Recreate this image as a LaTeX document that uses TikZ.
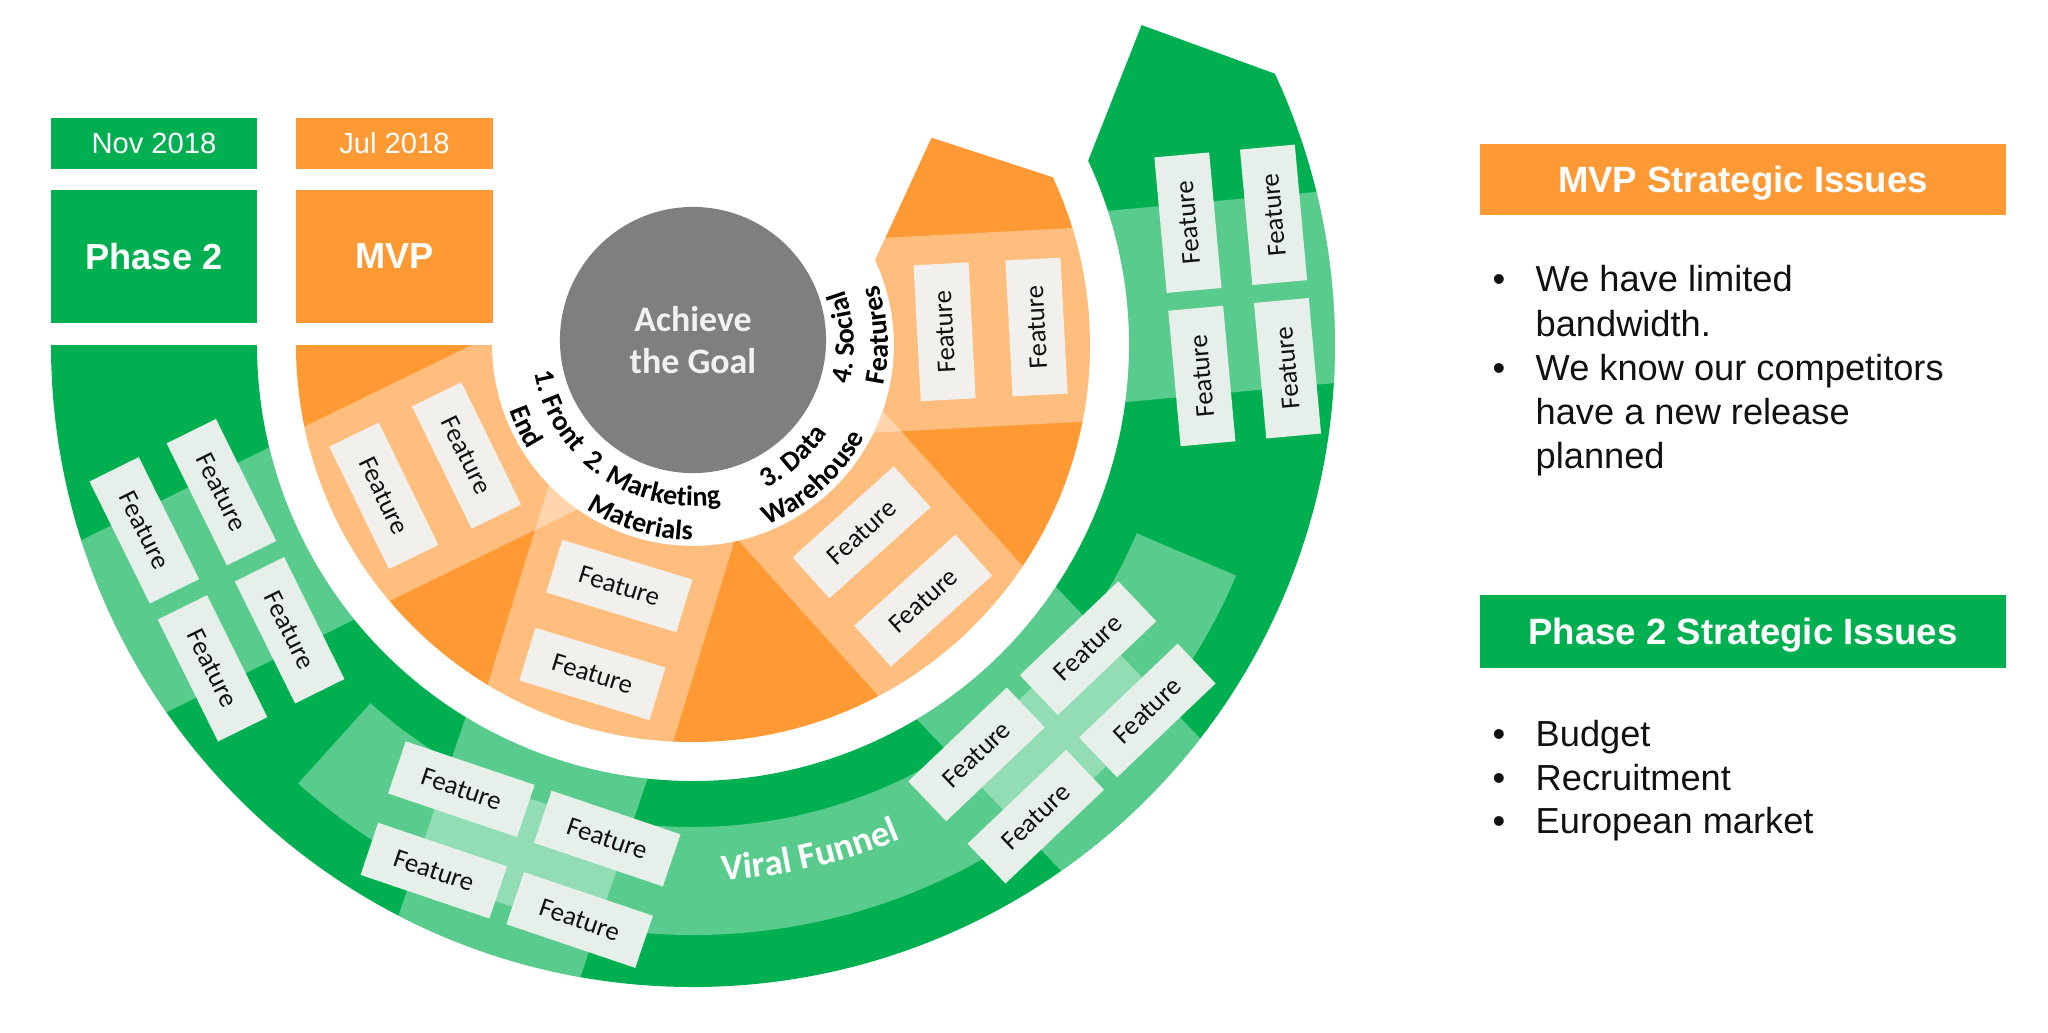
\documentclass[tikz,border=0pt]{standalone}
\usepackage{fontspec}
\usetikzlibrary{decorations.text}
\newfontfamily\calf{Carlito}
\newfontfamily\arf{Liberation Sans}
\definecolor{grn}{HTML}{00B050}
\definecolor{org}{HTML}{FF9933}
\definecolor{gry}{HTML}{7F7F7F}
\definecolor{gbox}{HTML}{E6EFE9}
\definecolor{obox}{HTML}{F2F0EC}
\definecolor{txt}{HTML}{111111}
\newcommand\featfont{\calf\fontsize{7.6}{9}\selectfont}
\newcommand\labfont{\calf\bfseries\fontsize{8}{9.6}\selectfont}
\newcommand\vfont{\calf\bfseries\fontsize{10.5}{12}\selectfont}
\newcommand\goalfont{\calf\bfseries\fontsize{10.2}{12.2}\selectfont}
\newcommand\bulfont{\arf\fontsize{10.3}{12.6}\selectfont}
\def\gpath{(180:642) arc[start angle=180, end angle=385, radius=642] -- (35.5:551) -- (25:436) arc[start angle=385, end angle=180, radius=436] -- cycle}
\def\opath{(180:397) arc[start angle=180, end angle=385, radius=397] -- (41:316) -- (25:201) arc[start angle=385, end angle=180, radius=201] -- cycle}
\begin{document}
\begin{tikzpicture}[x=0.01cm,y=0.01cm,
  featg/.style={fill=gbox, text=txt, font=\featfont, minimum width=13.6mm, minimum height=5.5mm, inner sep=0pt},
  feato/.style={featg, fill=obox},
  tagbox/.style={text=white, inner sep=0pt, font=\arf\fontsize{8.3}{10}\selectfont},
  phbox/.style={text=white, inner sep=0pt, font=\arf\bfseries\fontsize{10.3}{12}\selectfont},
  titlebox/.style={text=white, inner sep=0pt, minimum width=52.6mm, text height=7.45pt, text depth=0pt, font=\arf\bfseries\fontsize{10.4}{12}\selectfont},
  bul/.style={anchor=base, inner sep=0pt, text=txt, font=\bulfont},
  btxt/.style={anchor=base west, inner sep=0pt, text=txt, font=\bulfont},
  strip/.style={fill=white, fill opacity=0.35},
  lab/.style={decorate, decoration={text along path, text align=center, text color=black}}
]
\useasboundingbox (-693,-687) rectangle (1355,345);

% top-left tags
\node[tagbox, fill=grn, minimum width=20.6mm, minimum height=5.1mm] (nov) at (-539,201.5) {Nov 2018};
\node[phbox, fill=grn, minimum width=20.6mm, minimum height=13.3mm] (ph2) at (-539,88.5) {Phase 2};
\node[tagbox, fill=org, minimum width=19.7mm, minimum height=5.1mm] (jul) at (-298.5,201.5) {Jul 2018};
\node[phbox, fill=org, minimum width=19.7mm, minimum height=13.3mm] (mvp) at (-298.5,88.5) {MVP};

% green ring
\fill[grn] \gpath;
\begin{scope}
  \clip \gpath;
  \foreach \a in {206.3, 251.3, 313.6, 5.2}
    \fill[strip, rotate=\a] (0,-96) rectangle (760,96);
  \fill[strip] (228:482) arc[start angle=228, end angle=337, radius=482] -- (337:590) arc[start angle=337, end angle=228, radius=590] -- cycle;
\end{scope}

% orange ring
\fill[org] \opath;
\begin{scope}
  \clip \opath;
  \foreach \a in {206, 253, 312, 3}
    \fill[white, fill opacity=0.37, rotate=\a] (0,-97) rectangle (470,97);
\end{scope}

% green feature boxes
\foreach \a/\r [count=\i] in {206.3/531, 251.3/538, 313.6/535, 5.2/547} {
  \begin{scope}[shift={(\a:\r)}, rotate=\a]
    \node[featg, rotate=\a+90] (g\i-a) at (-43,-77) {Feature};
    \node[featg, rotate=\a+90] (g\i-b) at (43,-77) {Feature};
    \node[featg, rotate=\a+90] (g\i-c) at (-43,77) {Feature};
    \node[featg, rotate=\a+90] (g\i-d) at (43,77) {Feature};
  \end{scope}
}

% orange feature boxes
\foreach \a [count=\i] in {206, 253, 312, 3} {
  \node[feato, rotate=\a+90] (o\i-a) at (\a:252) {Feature};
  \node[feato, rotate=\a+90] (o\i-b) at (\a:344) {Feature};
}

% centre
\node[circle, fill=gry, minimum size=26.6mm, inner sep=0pt, text=white!95!black, font=\goalfont, align=center] (goal) at (0,5) {Achieve\\the Goal};

% segment labels
\path[lab, decoration={text={|\labfont|1. Front}}] (161:161) arc[start angle=161, end angle=251, radius=161];
\path[lab, decoration={text={|\labfont|End}}] (161:195) arc[start angle=161, end angle=251, radius=195];
\path[lab, decoration={text={|\labfont|2. Marketing}}] (208.5:161) arc[start angle=208.5, end angle=298.5, radius=161];
\path[lab, decoration={text={|\labfont|Materials}}] (208.5:195) arc[start angle=208.5, end angle=298.5, radius=195];
\path[lab, decoration={text={|\labfont|3. Data}}] (267:161) arc[start angle=267, end angle=357, radius=161];
\path[lab, decoration={text={|\labfont|Warehouse}}] (267:195) arc[start angle=267, end angle=357, radius=195];
\path[lab, decoration={text={|\labfont|4. Social}}] (-42:161) arc[start angle=-42, end angle=48, radius=161];
\path[lab, decoration={text={|\labfont|Features}}] (-42:195) arc[start angle=-42, end angle=48, radius=195];

% viral funnel
\path[decorate, decoration={text along path, text align=center, text color=white, text={|\vfont|Viral Funnel}}] (253:536) arc[start angle=253, end angle=313, radius=536];

% right panel
\node[titlebox, fill=org, minimum height=7.1mm] (mvpt) at (1050,165.5) {MVP Strategic Issues};
\node[bul] (mb1) at (806,53.5) {•};
\node[btxt] (m1) at (842,53.5) {We have limited};
\node[btxt] (m2) at (842,8.5) {bandwidth.};
\node[bul] (mb2) at (806,-35) {•};
\node[btxt] (m3) at (842,-35) {We know our competitors};
\node[btxt] (m4) at (842,-79) {have a new release};
\node[btxt] (m5) at (842,-123) {planned};

\node[titlebox, fill=grn, minimum height=7.3mm] (p2t) at (1050,-286.5) {Phase 2 Strategic Issues};
\node[bul] (pb1) at (806,-401) {•};
\node[btxt] (p1) at (842,-401) {Budget};
\node[bul] (pb2) at (806,-445) {•};
\node[btxt] (p2) at (842,-445) {Recruitment};
\node[bul] (pb3) at (806,-488) {•};
\node[btxt] (p3) at (842,-488) {European market};
\end{tikzpicture}
\end{document}
